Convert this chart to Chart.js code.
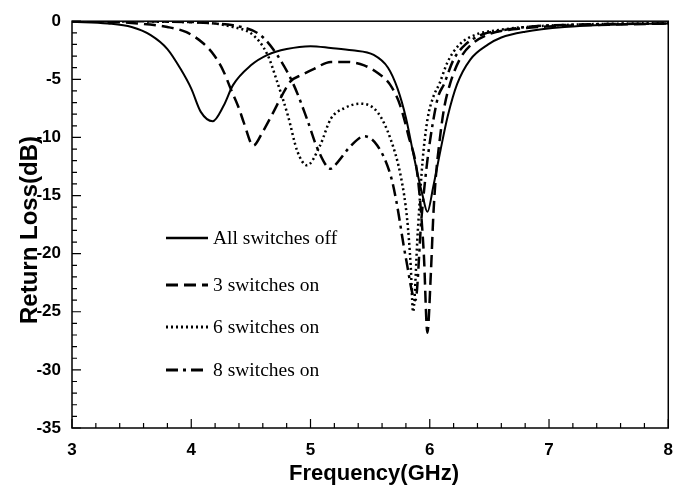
<!doctype html>
<html lang="en">
<head>
  <meta charset="utf-8">
  <title>Return Loss</title>
  <style>
    * { margin: 0; padding: 0; }
    body { background: white; }
    .chartBox { width: 681px; height: 495px; position: relative; }
  </style>
</head>
<body>
<div class="chartBox">
  <canvas id="myChart"></canvas>
</div>

<script src="https://cdn.jsdelivr.net/npm/chart.js"></script>
<script>
  // data (GHz / dB)
  const seriesNames = ['All switches off', '3 switches on', '6 switches on', '8 switches on'];

  const freqOff = [3, 3.3, 3.5, 3.66, 3.8, 3.91, 4.0, 4.08, 4.18, 4.27, 4.35, 4.5, 4.64, 4.8, 5.0, 5.17, 5.35, 5.53, 5.65, 5.73, 5.8, 5.87, 5.94, 5.98, 6.03, 6.09, 6.15, 6.23, 6.34, 6.49, 6.6, 6.8, 7.13, 7.5, 8];
  const lossOff = [-0.05, -0.2, -0.5, -1.2, -2.4, -4.1, -5.8, -7.8, -8.6, -7.3, -5.5, -3.8, -2.9, -2.4, -2.15, -2.3, -2.5, -2.9, -4.0, -5.8, -8.3, -11.8, -15, -16.4, -14.2, -11.1, -8.2, -5.4, -3.3, -2.0, -1.4, -0.9, -0.5, -0.3, -0.2];

  const freq3 = [3, 3.5, 3.8, 3.96, 4.1, 4.19, 4.27, 4.33, 4.4, 4.44, 4.52, 4.6, 4.69, 4.76, 4.83, 4.93, 5.03, 5.17, 5.3, 5.45, 5.57, 5.67, 5.75, 5.82, 5.9, 5.95, 5.98, 6.01, 6.03, 6.05, 6.08, 6.12, 6.17, 6.25, 6.35, 6.5, 6.7, 7.0, 7.5, 8];
  const loss3 = [0, -0.15, -0.5, -0.95, -1.9, -2.9, -4.3, -5.8, -7.5, -8.7, -10.7, -9.5, -7.8, -6.4, -5.2, -4.6, -4.1, -3.5, -3.5, -3.8, -4.5, -5.5, -7.2, -9.8, -13.5, -20, -26.8, -21.5, -16.7, -13.5, -10.5, -7.5, -5.4, -3.3, -2.0, -1.1, -0.7, -0.45, -0.3, -0.2];

  const freq6 = [3, 3.5, 3.8, 4.08, 4.35, 4.52, 4.64, 4.72, 4.81, 4.89, 4.97, 5.08, 5.17, 5.28, 5.42, 5.56, 5.67, 5.76, 5.81, 5.84, 5.86, 5.9, 5.94, 5.98, 6.03, 6.08, 6.15, 6.25, 6.4, 6.55, 6.8, 7.2, 8];
  const loss6 = [0, 0, -0.05, -0.1, -0.5, -1.2, -2.9, -5.2, -8.1, -11.2, -12.4, -10.7, -8.4, -7.5, -7.1, -7.8, -10.1, -13.5, -17, -21, -25, -18, -12, -8.5, -6.5, -5.4, -3.5, -2.0, -1.1, -0.8, -0.5, -0.3, -0.15];

  const freq8 = [3, 3.5, 4.0, 4.2, 4.35, 4.58, 4.72, 4.86, 4.97, 5.06, 5.17, 5.23, 5.34, 5.45, 5.56, 5.67, 5.72, 5.8, 5.88, 5.93, 5.98, 6.03, 6.07, 6.12, 6.2, 6.3, 6.45, 6.6, 6.8, 7.2, 8];
  const loss8 = [0, 0, -0.1, -0.2, -0.35, -1.2, -2.9, -5.5, -8.4, -11, -12.7, -12.1, -10.7, -9.9, -10.7, -13.2, -15.5, -20.4, -24, -17, -12, -8.5, -6.5, -5.4, -3.3, -2.0, -1.1, -0.8, -0.5, -0.3, -0.2];

  const xTicks = [3, 4, 5, 6, 7, 8];
  const yTicks = [0, -5, -10, -15, -20, -25, -30, -35];

  const lineDashes = [[], [12, 6], [2, 3], [12, 5, 3, 5]];

  function toPoints(xs, ys) {
    return xs.map((x, i) => ({ x: x, y: ys[i] }));
  }

  const allSeries = [
    toPoints(freqOff, lossOff),
    toPoints(freq3, loss3),
    toPoints(freq6, loss6),
    toPoints(freq8, loss8)
  ];

  const datasets = allSeries.map((pts, i) => ({
    label: seriesNames[i],
    data: pts,
    borderColor: 'black',
    borderWidth: i === 0 ? 2 : 2.5,
    borderDash: lineDashes[i],
    pointRadius: 0,
    cubicInterpolationMode: 'monotone',
    fill: false
  }));

  // frame, inward ticks, axis titles and legend
  const framePlugin = {
    id: 'framePlugin',
    afterDraw(chart) {
      const ctx = chart.ctx;
      const a = chart.chartArea;
      const xs = chart.scales.x;
      const ys = chart.scales.y;
      ctx.save();
      ctx.strokeStyle = 'black';
      ctx.lineWidth = 1.5;
      ctx.strokeRect(a.left, a.top, a.right - a.left, a.bottom - a.top);

      ctx.lineWidth = 1.2;
      ctx.beginPath();
      for (let v = 3; v <= 8.0001; v += 0.2) {
        const px = xs.getPixelForValue(v);
        const major = Math.abs(v - Math.round(v)) < 1e-6;
        ctx.moveTo(px, a.bottom);
        ctx.lineTo(px, a.bottom - (major ? 9 : 5));
      }
      for (let v = 0; v >= -35; v -= 1) {
        const py = ys.getPixelForValue(v);
        const major = v % 5 === 0;
        ctx.moveTo(a.left, py);
        ctx.lineTo(a.left + (major ? 9 : 5), py);
      }
      ctx.stroke();

      // axis titles
      ctx.fillStyle = 'black';
      ctx.font = 'bold 22px "Liberation Sans", Arial, sans-serif';
      ctx.textAlign = 'center';
      ctx.textBaseline = 'middle';
      ctx.fillText('Frequency(GHz)', 374, 474);
      ctx.save();
      ctx.font = 'bold 24px "Liberation Sans", Arial, sans-serif';
      ctx.textBaseline = 'alphabetic';
      ctx.translate(37, 230);
      ctx.rotate(-Math.PI / 2);
      ctx.fillText('Return Loss(dB)', 0, 0);
      ctx.restore();

      // legend
      const rows = [238, 285, 327, 370];
      ctx.font = '19.5px "Liberation Serif", "Times New Roman", serif';
      ctx.textAlign = 'left';
      rows.forEach((ry, i) => {
        ctx.beginPath();
        ctx.lineWidth = i === 0 ? 2.5 : 3;
        ctx.setLineDash(lineDashes[i]);
        ctx.moveTo(166, ry);
        ctx.lineTo(208, ry);
        ctx.stroke();
        ctx.setLineDash([]);
        ctx.fillText(seriesNames[i], 213, ry + 1);
      });
      ctx.restore();
    }
  };

  const tickFont = { family: '"Liberation Sans", Arial, sans-serif', size: 17, weight: 'bold' };

  new Chart(document.getElementById('myChart'), {
    type: 'line',
    data: { datasets },
    options: {
      responsive: true,
      maintainAspectRatio: false,
      animation: false,
      layout: { padding: { top: 19, right: 10, left: 0, bottom: 0 } },
      plugins: {
        legend: { display: false },
        tooltip: { enabled: false }
      },
      scales: {
        x: {
          type: 'linear',
          min: 3,
          max: 8,
          afterBuildTicks: (s) => { s.ticks = xTicks.map(v => ({ value: v })); },
          ticks: { color: 'black', font: tickFont, padding: 8, maxRotation: 0 },
          // invisible tick marks only push the labels down a little
          grid: { display: false, drawTicks: true, tickLength: 4, tickColor: 'rgba(0,0,0,0)' },
          border: { display: false },
          afterFit: (s) => { s.height = 67; }
        },
        y: {
          type: 'linear',
          min: -35,
          max: 0,
          afterBuildTicks: (s) => { s.ticks = yTicks.map(v => ({ value: v })); },
          ticks: { color: 'black', font: tickFont, padding: 11 },
          grid: { display: false, drawTicks: false },
          border: { display: false },
          afterFit: (s) => { s.width = 72; }
        }
      }
    },
    plugins: [framePlugin]
  });
</script>
</body>
</html>
